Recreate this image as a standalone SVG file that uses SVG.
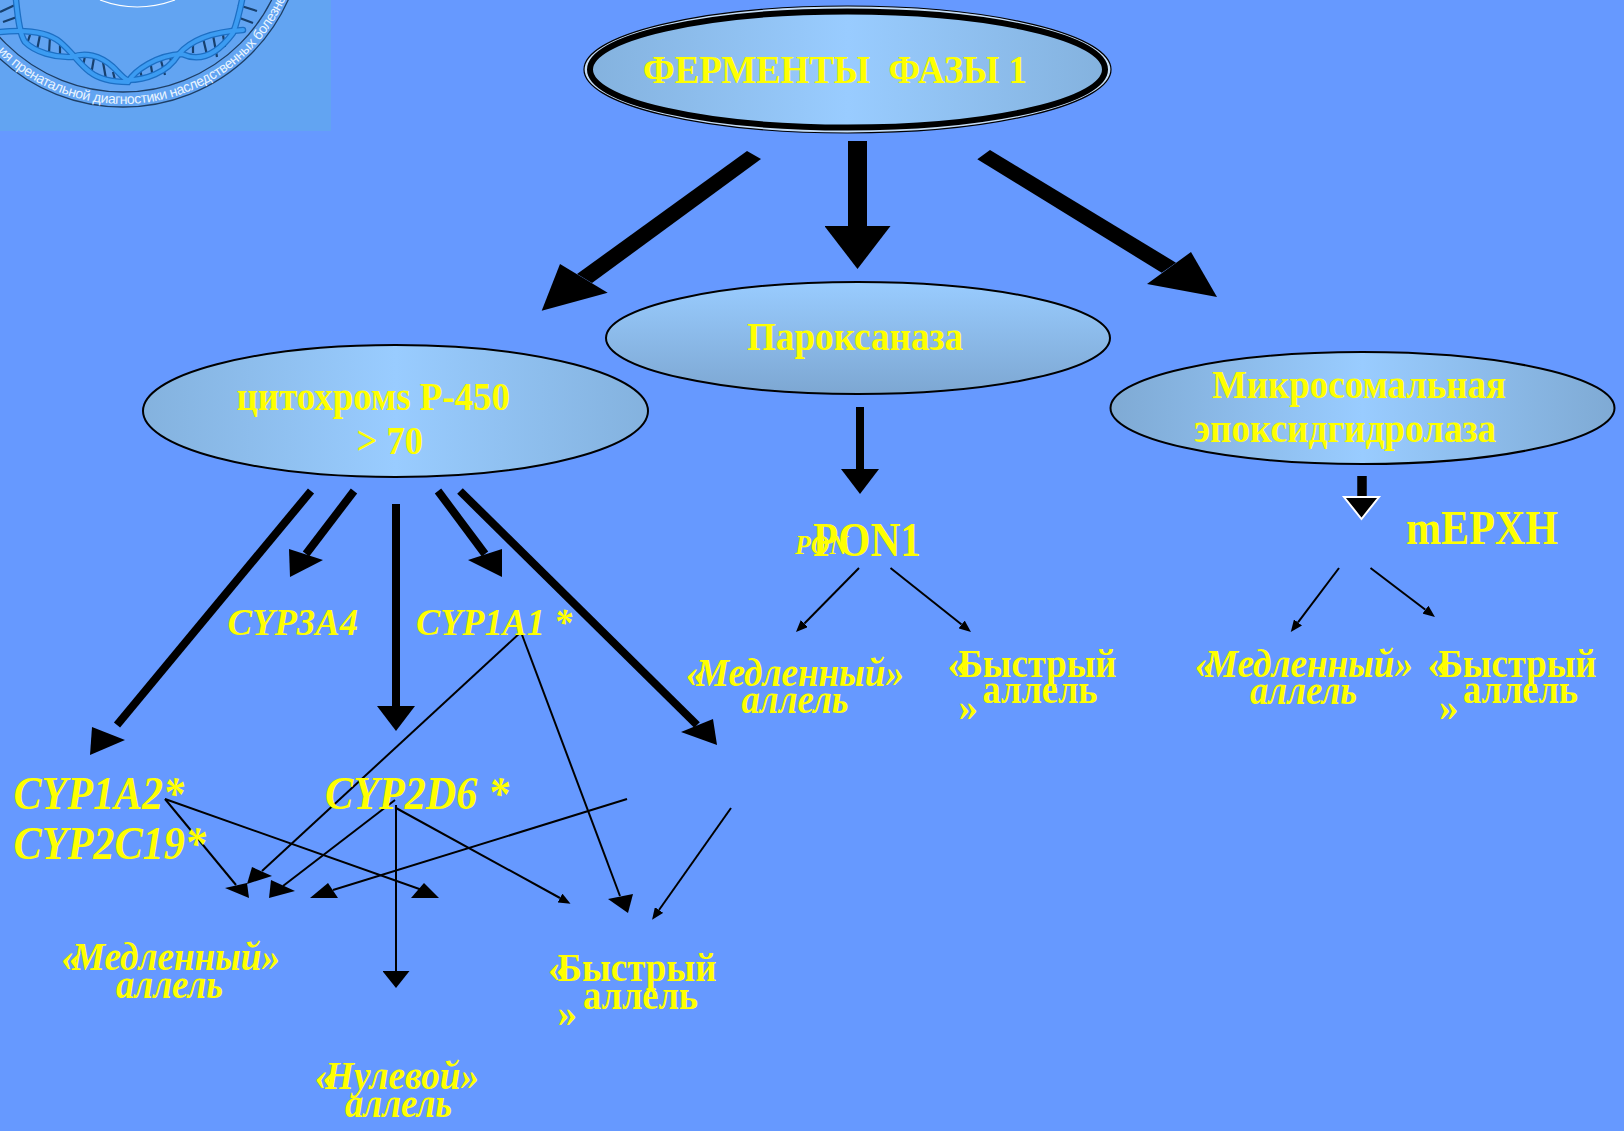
<svg xmlns="http://www.w3.org/2000/svg" width="1624" height="1131" viewBox="0 0 1624 1131">
<style>
text{fill:#FFFF00;font-family:"Liberation Serif","Noto Serif",serif;font-weight:bold}
.i{font-style:italic}
.e{stroke:#000;stroke-width:2}
.t0{font-size:40px}.t1{font-size:39px}.t2{font-size:48px}.t3{font-size:38px}.t4{font-size:46px}.t5{font-size:39px}
.c{stroke:#000;fill:none}
.s2{stroke-width:2}
.logo text{fill:#EAF5FF;font-family:"Liberation Sans",Arial,sans-serif;font-weight:normal;font-size:14px}
.rung{stroke:#17406E;stroke-width:2.2;fill:none}
.strand{fill:none;stroke-linecap:round}
.so{stroke:#1D6FC4;stroke-width:6.5}
.si{stroke:#3C9CF2;stroke-width:4}
</style>
<defs>
<linearGradient id="gh"><stop offset="0" stop-color="#84B2DE"/><stop offset=".5" stop-color="#99CCFF"/><stop offset="1" stop-color="#84B2DE"/></linearGradient>
<linearGradient id="gh2"><stop offset="0" stop-color="#7FAAD4"/><stop offset=".5" stop-color="#99CCFF"/><stop offset="1" stop-color="#7FAAD4"/></linearGradient>
<linearGradient id="gv" x2="0" y2="1"><stop offset="0" stop-color="#99CCFF"/><stop offset="1" stop-color="#7DA7D2"/></linearGradient>
<marker id="hT" markerUnits="userSpaceOnUse" viewBox="0 0 1 1" preserveAspectRatio="none" markerWidth="43" markerHeight="66" refX="0" refY=".5" orient="auto"><polygon points="0,0 1,.5 0,1"/></marker>
<marker id="hV" markerUnits="userSpaceOnUse" viewBox="0 0 1 1" preserveAspectRatio="none" markerWidth="25" markerHeight="38" refX="0" refY=".5" orient="auto"><polygon points="0,0 1,.5 0,1"/></marker>
<marker id="hW" markerUnits="userSpaceOnUse" viewBox="0 0 1 1" preserveAspectRatio="none" markerWidth="17" markerHeight="27" refX="0" refY=".5" orient="auto"><polygon points="0,0 1,.5 0,1"/></marker>
<marker id="hS" markerUnits="userSpaceOnUse" viewBox="0 0 1 1" preserveAspectRatio="none" markerWidth="12" markerHeight="10" refX="0" refY=".5" orient="auto"><polygon points="0,0 1,.5 0,1"/></marker>
<path id="ringPath" d="M-55 -74A178 178 0 0 0 301 -74"/>
<path id="s1" d="M16 0C18 20 20 35 25 42C35 52 55 58 72 57C85 52 100 55 113 67C120 74 125 80 128 80C145 80 167 73 178 55C188 43 207 32 243 30"/>
<path id="s2" d="M0 32C20 30 45 30 60 42C72 52 80 65 90 72C100 80 115 82 128 82C135 70 157 55 182 54C195 60 213 60 233 33C238 20 240 10 242 0"/>
</defs>
<rect width="1624" height="1131" fill="#6699FF"/>
<g id="logo" class="logo">
<rect width="331" height="131" fill="#62A4F2"/>
<circle cx="123" cy="-74" r="181" fill="none" stroke="#1E3F66" stroke-width="1.3"/>
<circle cx="123" cy="-74" r="166" fill="none" stroke="#1E3F66" stroke-width="1.3"/>
<path d="M100 0Q137 14 175 0" fill="none" stroke="#fff" stroke-width="1.2"/>
<path class="rung" d="M0 12L15 5M3 22L17 17M30 35L27 44M40 35L37 50M50 37L49 53M60 42L60 55M85 56L83 66M94 58L91 75M103 62L106 79M113 72L115 80M140 70L142 78M150 60L153 78M160 57L165 75M170 57L172 65M193 45L193 53M203 38L207 55M213 35L217 57M223 35L225 47M237 17L253 23M238 5L257 11"/>
<use href="#s1" class="strand so"/><use href="#s2" class="strand so"/>
<use href="#s1" class="strand si"/><use href="#s2" class="strand si"/>
<text><textPath href="#ringPath" startOffset="140" textLength="345" lengthAdjust="spacing">ия пренатальной диагностики наследственных болезне</textPath></text>
</g>
<g id="connectors">
<polygon points="747,151 761,159 592,283 577,274"/>
<polygon points="541.7,310.7 560,264 607.7,292.7"/>
<line class="c" stroke-width="19" x1="857.5" y1="141" x2="857.5" y2="226" marker-end="url(#hT)"/>
<polygon points="977.3,159.3 990,150 1176,262.7 1161.7,272.7"/>
<polygon points="1217,297 1191,252 1147,284"/>
<line class="c" stroke-width="8" x1="860" y1="407" x2="860" y2="469" marker-end="url(#hV)"/>
<line class="c" stroke-width="9.5" x1="1362" y1="476" x2="1362" y2="497"/>
<polygon points="1344,497 1379,497 1361.5,519" stroke="#fff" stroke-width="2"/>
<line class="c" stroke-width="8" x1="311" y1="491" x2="117" y2="725"/>
<polygon points="92,727 125,740 90,755"/>
<line class="c" stroke-width="8" x1="354" y1="491" x2="306" y2="554"/>
<polygon points="289,549 323,560 290,577"/>
<line class="c" stroke-width="8" x1="396" y1="504" x2="396" y2="706" marker-end="url(#hV)"/>
<line class="c" stroke-width="8" x1="438" y1="491" x2="485" y2="554"/>
<polygon points="468,560 502,549 502,577"/>
<line class="c" stroke-width="8" x1="460" y1="491" x2="697" y2="725"/>
<polygon points="681,732 713,719 717,745"/>
<line class="c s2" x1="521" y1="632" x2="262" y2="871"/>
<polygon points="252,867 272,876 247,884"/>
<line class="c s2" x1="521" y1="632" x2="620" y2="896"/>
<polygon points="608,899 633,894 628,913"/>
<line class="c s2" x1="165" y1="799" x2="236" y2="885"/>
<polygon points="225,888 247,883 249,898"/>
<line class="c s2" x1="165" y1="799" x2="425" y2="891"/>
<polygon points="411,898 424,883 439,898"/>
<line class="c s2" x1="395" y1="800" x2="283" y2="886"/>
<polygon points="269,898 271,880 295,891"/>
<line class="c s2" x1="627" y1="799" x2="333" y2="890"/>
<polygon points="310,898 328,883 338,898"/>
<line class="c s2" x1="396" y1="805" x2="396" y2="971" marker-end="url(#hW)"/>
<line class="c s2" x1="396" y1="808" x2="560" y2="898" marker-end="url(#hS)"/>
<line class="c s2" x1="731" y1="808" x2="659" y2="910" marker-end="url(#hS)"/>
<line class="c s2" x1="859" y1="568" x2="804.4" y2="623.5" marker-end="url(#hS)"/>
<line class="c s2" x1="890.5" y1="568" x2="961.6" y2="624.5" marker-end="url(#hS)"/>
<line class="c s2" x1="1339" y1="568" x2="1298" y2="622.4" marker-end="url(#hS)"/>
<line class="c s2" x1="1370.5" y1="568" x2="1425.4" y2="609.7" marker-end="url(#hS)"/>
</g>
<g id="node-phase1">
<ellipse cx="847.5" cy="69.5" rx="263.5" ry="63.5" fill="#C4DCF6" stroke="#000" stroke-width="1.2"/>
<ellipse cx="847.5" cy="69.5" rx="257.5" ry="58" fill="url(#gh)" stroke="#000" stroke-width="6"/>
<text class="t0" xml:space="preserve" x="643" y="83" textLength="384" lengthAdjust="spacingAndGlyphs">ФЕРМЕНТЫ  ФАЗЫ 1</text>
</g>
<g id="node-p450">
<ellipse class="e" cx="395.5" cy="411" rx="252.5" ry="66" fill="url(#gh)"/>
<text class="t1" x="236.5" y="410" textLength="273.5" lengthAdjust="spacingAndGlyphs">цитохромs Р-450</text>
<text class="t1" x="356.5" y="454" textLength="66.5" lengthAdjust="spacingAndGlyphs">&gt; 70</text>
</g>
<g id="node-paraoxonase">
<ellipse class="e" cx="858" cy="338" rx="252" ry="56" fill="url(#gv)"/>
<text class="t1" x="747" y="350" textLength="216" lengthAdjust="spacingAndGlyphs">Пароксаназа</text>
</g>
<g id="node-epoxide">
<ellipse class="e" cx="1362.5" cy="408" rx="252" ry="56" fill="url(#gh2)"/>
<text class="t1" x="1212" y="398" textLength="294" lengthAdjust="spacingAndGlyphs">Микросомальная</text>
<text class="t1" x="1194" y="442" textLength="302" lengthAdjust="spacingAndGlyphs">эпоксидгидролаза</text>
</g>
<g id="node-pon1">
<text class="i" style="font-size:28px" x="795" y="554" textLength="53" lengthAdjust="spacingAndGlyphs">PON</text>
<text class="t2" x="813" y="556" textLength="108" lengthAdjust="spacingAndGlyphs">PON1</text>
</g>
<g id="node-mephx"><text class="t2" x="1406" y="544" textLength="152" lengthAdjust="spacingAndGlyphs">mEPXH</text></g>
<g id="node-cyp3a4"><text class="t3 i" x="227.5" y="635" textLength="130.5" lengthAdjust="spacingAndGlyphs">CYP3A4</text></g>
<g id="node-cyp1a1"><text class="t3 i" xml:space="preserve" x="416" y="635" textLength="156" lengthAdjust="spacingAndGlyphs">CYP1A1 *</text></g>
<g id="node-cyp1a2"><text class="t4 i" x="13.5" y="809" textLength="170.5" lengthAdjust="spacingAndGlyphs">CYP1A2*</text></g>
<g id="node-cyp2c19"><text class="t4 i" x="13.5" y="859" textLength="192.5" lengthAdjust="spacingAndGlyphs">CYP2C19*</text></g>
<g id="node-cyp2d6"><text class="t4 i" xml:space="preserve" x="325" y="809" textLength="184" lengthAdjust="spacingAndGlyphs">CYP2D6 *</text></g>
<g id="label-slow-1">
<text class="t5 i" x="61.5" y="970">«</text>
<text class="t5 i" x="72" y="970" textLength="208" lengthAdjust="spacingAndGlyphs">Медленный»</text>
<text class="t5 i" x="116" y="998" textLength="107" lengthAdjust="spacingAndGlyphs">аллель</text>
</g>
<g id="label-fast-1">
<text class="t5" x="548" y="981">«</text>
<text class="t5" x="557.5" y="981" textLength="159" lengthAdjust="spacingAndGlyphs">Быстрый</text>
<text class="t5" x="583" y="1009" textLength="115" lengthAdjust="spacingAndGlyphs">аллель</text>
<text class="t5" x="557.5" y="1026">»</text>
</g>
<g id="label-null">
<text class="t5 i" x="315" y="1089">«</text>
<text class="t5 i" x="325" y="1089" textLength="154" lengthAdjust="spacingAndGlyphs">Нулевой»</text>
<text class="t5 i" x="345" y="1117" textLength="107" lengthAdjust="spacingAndGlyphs">аллель</text>
</g>
<g id="label-slow-2">
<text class="t5 i" x="686" y="686">«</text>
<text class="t5 i" x="696" y="686" textLength="208" lengthAdjust="spacingAndGlyphs">Медленный»</text>
<text class="t5 i" x="741.5" y="713" textLength="107" lengthAdjust="spacingAndGlyphs">аллель</text>
</g>
<g id="label-fast-2">
<text class="t5" x="947.5" y="677">«</text>
<text class="t5" x="958.5" y="677" textLength="158" lengthAdjust="spacingAndGlyphs">Быстрый</text>
<text class="t5" x="982.5" y="703" textLength="115" lengthAdjust="spacingAndGlyphs">аллель</text>
<text class="t5" x="958.5" y="720">»</text>
</g>
<g id="label-slow-3">
<text class="t5 i" x="1195" y="677">«</text>
<text class="t5 i" x="1205" y="677" textLength="208" lengthAdjust="spacingAndGlyphs">Медленный»</text>
<text class="t5 i" x="1250" y="704" textLength="107" lengthAdjust="spacingAndGlyphs">аллель</text>
</g>
<g id="label-fast-3">
<text class="t5" x="1427.5" y="677">«</text>
<text class="t5" x="1438.5" y="677" textLength="158" lengthAdjust="spacingAndGlyphs">Быстрый</text>
<text class="t5" x="1463" y="703" textLength="115" lengthAdjust="spacingAndGlyphs">аллель</text>
<text class="t5" x="1439" y="720">»</text>
</g>
</svg>
